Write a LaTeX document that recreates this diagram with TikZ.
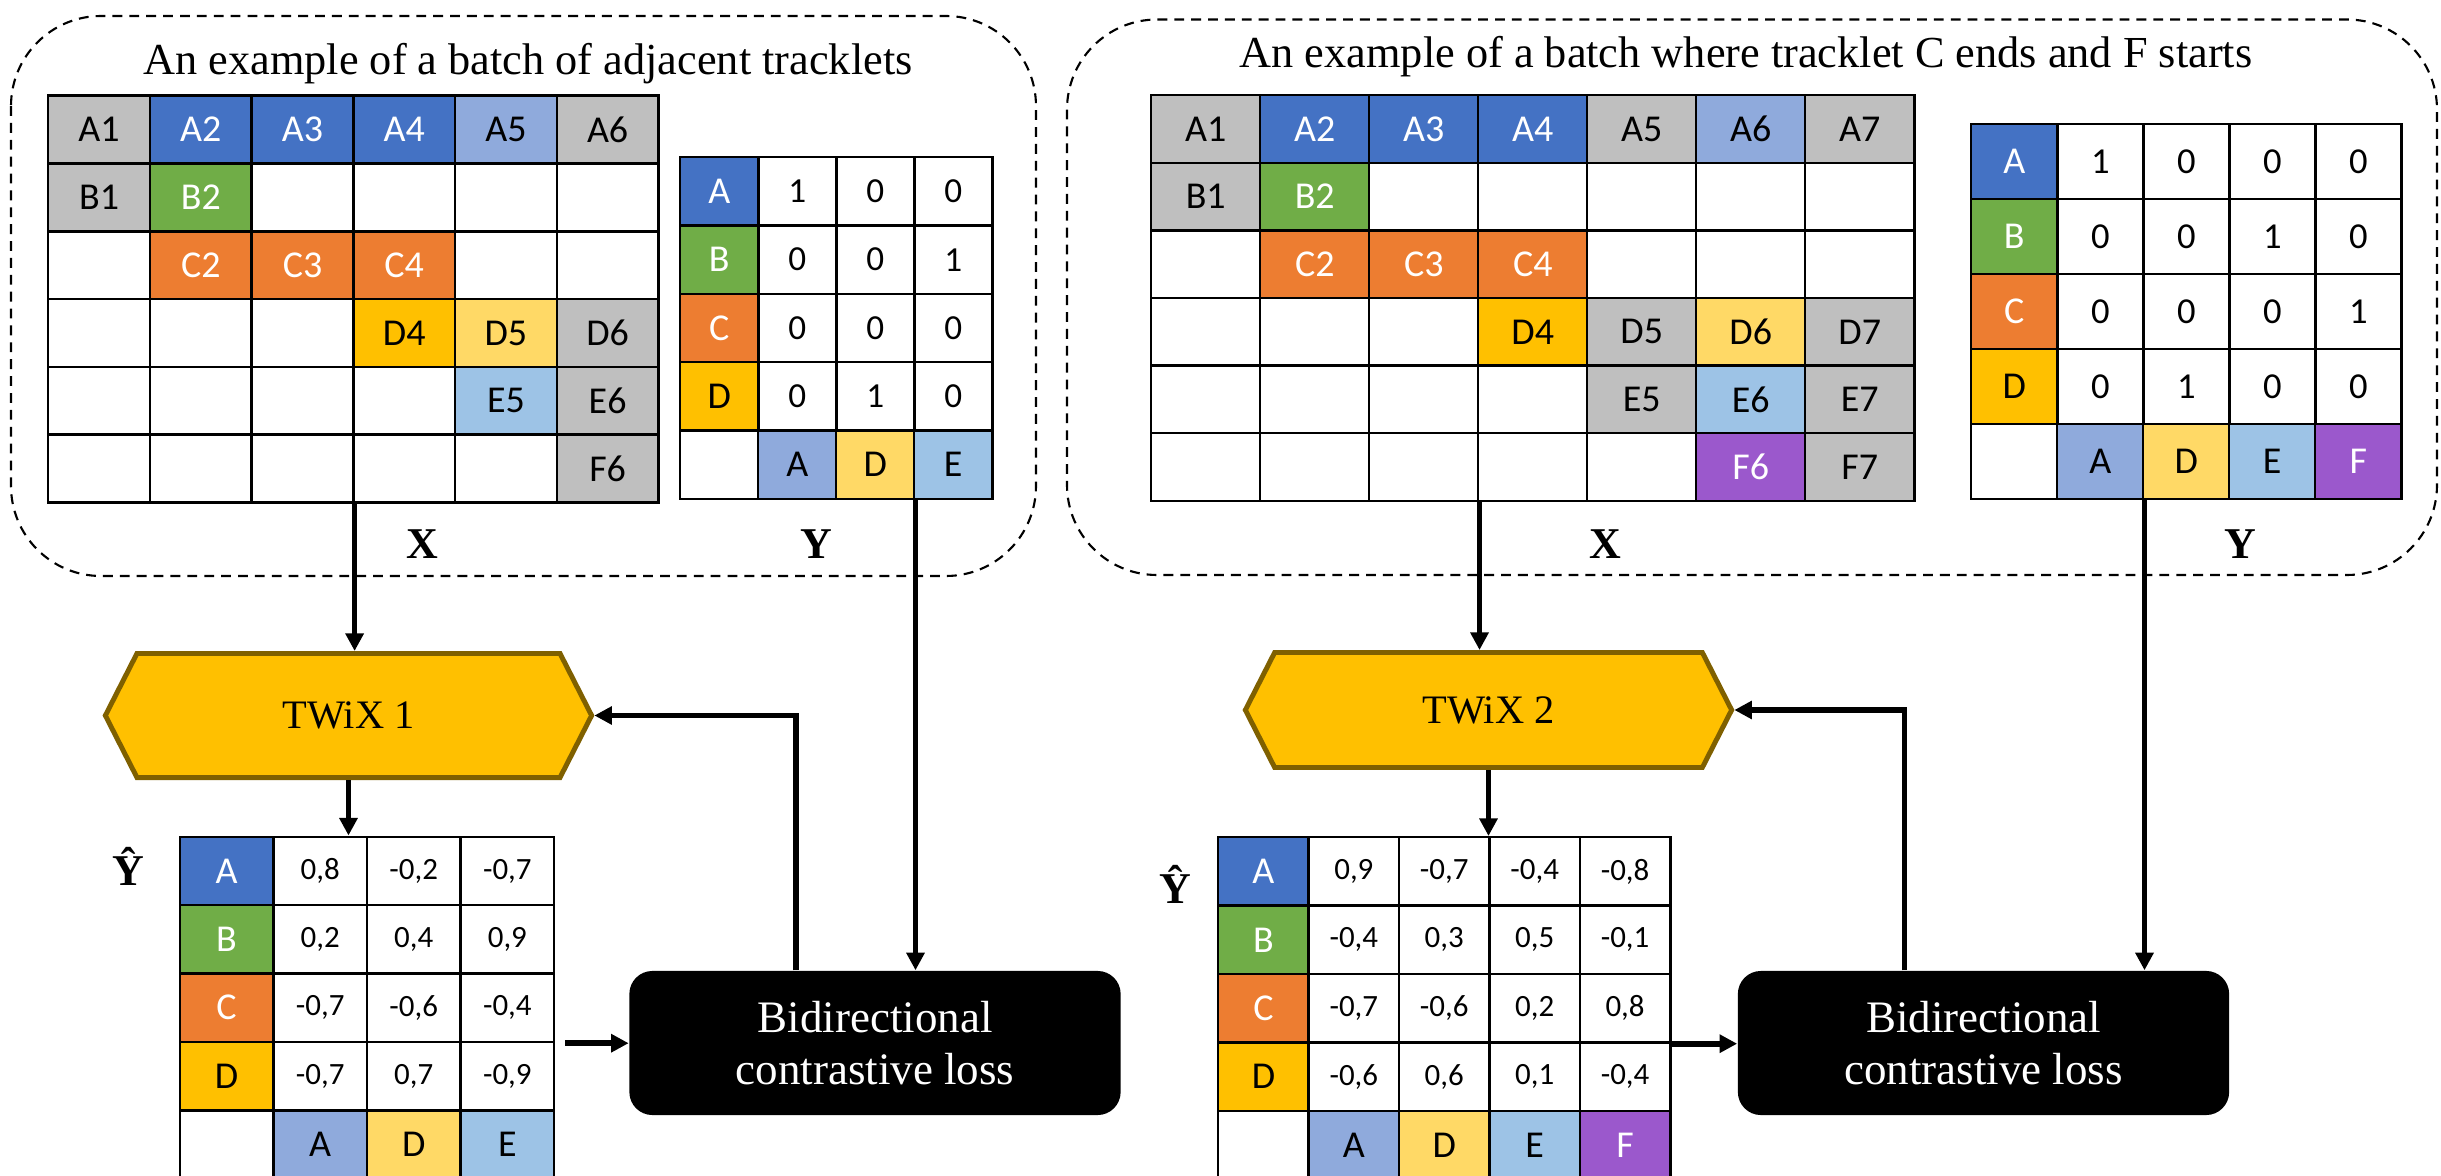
\documentclass[tikz,border=0pt]{standalone}
\usepackage{fontspec}
\setmainfont{Liberation Serif}
\newfontfamily\cellfont{Carlito}
\usepackage{tikz}
\usetikzlibrary{positioning, shapes.symbols, arrows.meta, calc}
\definecolor{greyColor}{HTML}{BFBFBF}
\definecolor{blueColor}{HTML}{4472C4}
\definecolor{lightBlueColor}{HTML}{8FAADC}
\definecolor{skyColor}{HTML}{9DC3E6}
\definecolor{greenColor}{HTML}{70AD47}
\definecolor{orangeColor}{HTML}{ED7D31}
\definecolor{goldColor}{HTML}{FFC000}
\definecolor{lightGoldColor}{HTML}{FFD966}
\definecolor{purpleColor}{HTML}{9B58CC}
\definecolor{frameColor}{HTML}{7F6000}

\begin{document}
\begin{tikzpicture}[
  x=0.01cm, y=-0.01cm,
  cell/.style={
    rectangle,
    draw=black,
    line width=0.7pt,
    inner sep=0pt,
    anchor=north west,
    font=\cellfont\fontsize{10.8}{13}\selectfont
  },
  xcellA/.style={cell, minimum width=1.017cm, minimum height=0.678cm},
  xcellB/.style={cell, minimum width=1.09cm, minimum height=0.676cm},
  ycellA/.style={cell, minimum width=0.78cm, minimum height=0.683cm},
  ycellB/.style={cell, minimum width=0.86cm, minimum height=0.75cm},
  hcellA/.style={cell, minimum width=0.936cm, minimum height=0.684cm},
  hcellB/.style={cell, minimum width=0.904cm, minimum height=0.684cm},
  batch/.style={
    draw=black,
    line width=0.6pt,
    dash pattern=on 2.8pt off 2pt,
    rounded corners=0.9cm
  },
  heading/.style={anchor=base, font=\fontsize{12.6}{15}\selectfont},
  axislabel/.style={font=\bfseries\fontsize{12.5}{15}\selectfont},
  twix/.style={
    signal,
    signal to=west and east,
    signal pointer angle=126,
    draw=frameColor,
    fill=goldColor,
    line width=1.4pt,
    minimum width=4.86cm,
    font=\fontsize{11.5}{14}\selectfont
  },
  loss/.style={
    rectangle,
    rounded corners=0.23cm,
    fill=black,
    text=white,
    minimum width=4.91cm,
    minimum height=1.44cm,
    align=center,
    font=\fontsize{12.8}{14.8}\selectfont
  },
  arrow/.style={
    -{Triangle[length=5pt,width=5pt]},
    line width=1.6pt
  }
]
  \useasboundingbox (0,0) rectangle (2441,1176);

  % Batch frames and their titles
  \draw[batch] (11,16) rectangle (1036,576);
  \draw[batch] (1067,19.5) rectangle (2437,575);
  \node[heading] (titleA) at (528,75) {An example of a batch of adjacent tracklets};
  \node[heading] (titleB) at (1746,67.5) {An example of a batch where tracklet C ends and F starts};

  % Input X, first batch
  \foreach \r/\cells in {
    1/{greyColor/black/A1, blueColor/white/A2, blueColor/white/A3, blueColor/white/A4, lightBlueColor/black/A5, greyColor/black/A6},
    2/{greyColor/black/B1, greenColor/white/B2, white/black/{}, white/black/{}, white/black/{}, white/black/{}},
    3/{white/black/{}, orangeColor/white/C2, orangeColor/white/C3, orangeColor/white/C4, white/black/{}, white/black/{}},
    4/{white/black/{}, white/black/{}, white/black/{}, goldColor/black/D4, lightGoldColor/black/D5, greyColor/black/D6},
    5/{white/black/{}, white/black/{}, white/black/{}, white/black/{}, skyColor/black/E5, greyColor/black/E6},
    6/{white/black/{}, white/black/{}, white/black/{}, white/black/{}, white/black/{}, greyColor/black/F6}}
    \foreach \f/\tc/\t [count=\c] in \cells
      \node[xcellA, fill=\f, text=\tc] (xa-\r-\c) at ({47+(\c-1)*101.7},{94.5+(\r-1)*67.8}) {\t};

  % Input X, second batch
  \foreach \r/\cells in {
    1/{greyColor/black/A1, blueColor/white/A2, blueColor/white/A3, blueColor/white/A4, greyColor/black/A5, lightBlueColor/black/A6, greyColor/black/A7},
    2/{greyColor/black/B1, greenColor/white/B2, white/black/{}, white/black/{}, white/black/{}, white/black/{}, white/black/{}},
    3/{white/black/{}, orangeColor/white/C2, orangeColor/white/C3, orangeColor/white/C4, white/black/{}, white/black/{}, white/black/{}},
    4/{white/black/{}, white/black/{}, white/black/{}, goldColor/black/D4, greyColor/black/D5, lightGoldColor/black/D6, greyColor/black/D7},
    5/{white/black/{}, white/black/{}, white/black/{}, white/black/{}, greyColor/black/E5, skyColor/black/E6, greyColor/black/E7},
    6/{white/black/{}, white/black/{}, white/black/{}, white/black/{}, white/black/{}, purpleColor/white/F6, greyColor/black/F7}}
    \foreach \f/\tc/\t [count=\c] in \cells
      \node[xcellB, fill=\f, text=\tc] (xb-\r-\c) at ({1150+(\c-1)*109},{94+(\r-1)*67.6}) {\t};

  % Target Y, first batch
  \foreach \r/\f/\tc/\t in {1/blueColor/white/A, 2/greenColor/white/B, 3/orangeColor/white/C, 4/goldColor/black/D}
    \node[ycellA, fill=\f, text=\tc] (ya-\r-1) at (679,{156+(\r-1)*68.3}) {\t};
  \foreach \c/\f/\t in {1/white/{}, 2/lightBlueColor/A, 3/lightGoldColor/D, 4/skyColor/E}
    \node[ycellA, fill=\f] (ya-5-\c) at ({679+(\c-1)*78},{156+4*68.3}) {\t};
  \foreach \r/\vals in {1/{1,0,0}, 2/{0,0,1}, 3/{0,0,0}, 4/{0,1,0}}
    \foreach \v [count=\c from 2] in \vals
      \node[ycellA, font=\cellfont\fontsize{10}{12}\selectfont] (ya-\r-\c) at ({679+(\c-1)*78},{156+(\r-1)*68.3}) {\v};

  % Target Y, second batch
  \foreach \r/\f/\tc/\t in {1/blueColor/white/A, 2/greenColor/white/B, 3/orangeColor/white/C, 4/goldColor/black/D}
    \node[ycellB, fill=\f, text=\tc] (yb-\r-1) at (1970,{122.6+(\r-1)*75}) {\t};
  \foreach \c/\f/\tc/\t in {1/white/black/{}, 2/lightBlueColor/black/A, 3/lightGoldColor/black/D, 4/skyColor/black/E, 5/purpleColor/white/F}
    \node[ycellB, fill=\f, text=\tc] (yb-5-\c) at ({1970+(\c-1)*86},{122.6+4*75}) {\t};
  \foreach \r/\vals in {1/{1,0,0,0}, 2/{0,0,1,0}, 3/{0,0,0,1}, 4/{0,1,0,0}}
    \foreach \v [count=\c from 2] in \vals
      \node[ycellB, font=\cellfont\fontsize{10.4}{12}\selectfont] (yb-\r-\c) at ({1970+(\c-1)*86},{122.6+(\r-1)*75}) {\v};

  % Prediction Y hat, first batch
  \foreach \r/\f/\tc/\t in {1/blueColor/white/A, 2/greenColor/white/B, 3/orangeColor/white/C, 4/goldColor/black/D}
    \node[hcellA, fill=\f, text=\tc] (yha-\r-1) at (178.5,{835.5+(\r-1)*68.4}) {\t};
  \foreach \c/\f/\t in {1/white/{}, 2/lightBlueColor/A, 3/lightGoldColor/D, 4/skyColor/E}
    \node[hcellA, fill=\f] (yha-5-\c) at ({178.5+(\c-1)*93.6},{835.5+4*68.4}) {\t};
  \foreach \r/\vals in {1/{{0,8},{-0,2},{-0,7}}, 2/{{0,2},{0,4},{0,9}}, 3/{{-0,7},{-0,6},{-0,4}}, 4/{{-0,7},{0,7},{-0,9}}}
    \foreach \v [count=\c from 2] in \vals
      \node[hcellA, font=\cellfont\fontsize{8.8}{11}\selectfont] (yha-\r-\c) at ({178.5+(\c-1)*93.6},{835.5+(\r-1)*68.4}) {\v};

  % Prediction Y hat, second batch
  \foreach \r/\f/\tc/\t in {1/blueColor/white/A, 2/greenColor/white/B, 3/orangeColor/white/C, 4/goldColor/black/D}
    \node[hcellB, fill=\f, text=\tc] (yhb-\r-1) at (1217,{836+(\r-1)*68.4}) {\t};
  \foreach \c/\f/\tc/\t in {1/white/black/{}, 2/lightBlueColor/black/A, 3/lightGoldColor/black/D, 4/skyColor/black/E, 5/purpleColor/white/F}
    \node[hcellB, fill=\f, text=\tc] (yhb-5-\c) at ({1217+(\c-1)*90.4},{836+4*68.4}) {\t};
  \foreach \r/\vals in {1/{{0,9},{-0,7},{-0,4},{-0,8}}, 2/{{-0,4},{0,3},{0,5},{-0,1}}, 3/{{-0,7},{-0,6},{0,2},{0,8}}, 4/{{-0,6},{0,6},{0,1},{-0,4}}}
    \foreach \v [count=\c from 2] in \vals
      \node[hcellB, font=\cellfont\fontsize{8.8}{11}\selectfont] (yhb-\r-\c) at ({1217+(\c-1)*90.4},{836+(\r-1)*68.4}) {\v};

  % Matrix labels
  \node[axislabel] (xlabA) at (422,544) {X};
  \node[axislabel] (ylabA) at (816,544) {Y};
  \node[axislabel] (xlabB) at (1605,544) {X};
  \node[axislabel] (ylabB) at (2240,544) {Y};
  \node[axislabel] (yhatA) at (128,866) {Ŷ};
  \node[axislabel] (yhatB) at (1175,884) {Ŷ};

  % Models and losses
  \node[twix, minimum height=1.24cm] (twA) at (348.5,715.5) {TWiX 1};
  \node[twix, minimum height=1.15cm] (twB) at (1488.5,710) {TWiX 2};
  \node[loss] (lossA) at (875,1043) {Bidirectional\\contrastive loss};
  \node[loss] (lossB) at (1983.5,1043) {Bidirectional\\contrastive loss};

  % Connect nodes with arrows
  \draw[arrow] (xa-6-3.south east) -- (xa-6-3.south east |- twA.north);
  \draw[arrow] (twA.south) -- (twA.south |- yha-1-1.north);
  \draw[arrow] (ya-5-3.south east) -- (ya-5-3.south east |- lossA.north);
  \draw[arrow] ([xshift=-0.79cm]lossA.north) |- (twA.east);
  \draw[arrow, shorten <=0.1cm] (yha-3-4.south east) -- (yha-3-4.south east -| lossA.west);

  \draw[arrow] (xb-6-3.south east) -- (xb-6-3.south east |- twB.north);
  \draw[arrow] (twB.south) -- (twB.south |- yhb-1-1.north);
  \draw[arrow] (yb-5-2.south east) -- (yb-5-2.south east |- lossB.north);
  \draw[arrow] ([xshift=-0.79cm]lossB.north) |- (twB.east);
  \draw[arrow] (yhb-3-5.south east) -- (yhb-3-5.south east -| lossB.west);
\end{tikzpicture}
\end{document}
